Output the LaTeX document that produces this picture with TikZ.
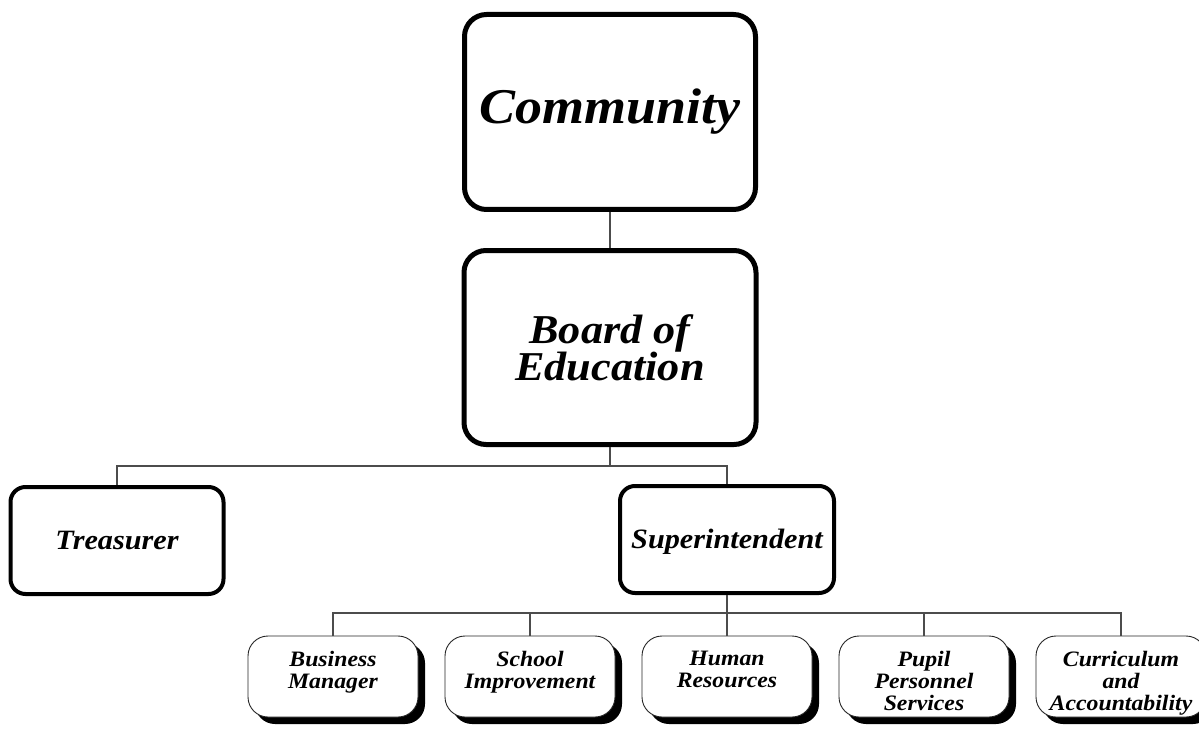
\documentclass[tikz,border=0pt]{standalone}
\usepackage{fontspec}
\usepackage{graphicx}
\setmainfont{Liberation Serif}
\usetikzlibrary{shadows}

% slightly widened bold-italic lettering
\newcommand{\orgtext}[1]{\scalebox{1.08}[1]{#1}}

\tikzset{
  bigbox/.style={draw=black, line width=5pt, rounded corners=22pt, fill=white,
    inner sep=0pt, font=\bfseries\itshape, align=center},
  midbox/.style={draw=black, line width=4pt, rounded corners=15pt, fill=white,
    inner sep=0pt, minimum width=214pt, minimum height=107pt,
    text height=20pt, text depth=3pt,
    font=\fontsize{28}{30}\selectfont\bfseries\itshape},
  deptbox/.style={draw=black!85, line width=0.9pt, rounded corners=20pt, fill=white,
    minimum width=170pt, minimum height=81pt, inner sep=0pt,
    drop shadow={shadow xshift=7pt, shadow yshift=-7pt, fill=black, opacity=1}},
  deptlabel/.style={anchor=north, yshift=-15pt, inner sep=0pt, align=center,
    font=\fontsize{22}{22}\selectfont\bfseries\itshape},
  link/.style={draw=black!70, line width=1.1pt}
}

\begin{document}
\begin{tikzpicture}[x=1pt, y=-1pt]
  \useasboundingbox (0,0) rectangle (1199,730);

  % upper chain
  \node[bigbox, minimum width=291pt, minimum height=195pt,
        font=\fontsize{50}{50}\selectfont\bfseries\itshape] (community) at (610,112) {\orgtext{Community}};
  \node[bigbox, minimum width=292pt, minimum height=194pt,
        font=\fontsize{41}{36}\selectfont\bfseries\itshape] (board) at (610,347.5)
        {\orgtext{Board of}\\[-1pt]\orgtext{Education}};

  % officers reporting to the board
  \node[midbox, minimum width=213pt] (treasurer) at (117,540.5) {\orgtext{Treasurer}};
  \node[midbox] (super) at (727,539.5) {\orgtext{Superintendent}};

  % departments under the superintendent
  \node[deptbox, label={[deptlabel]north:{\orgtext{Business}\\\orgtext{Manager}}}] (business) at (333,676.5) {};
  \node[deptbox, label={[deptlabel]north:{\orgtext{School}\\\orgtext{Improvement}}}] (school) at (530,676.5) {};
  \node[deptbox, label={[deptlabel]north:{\orgtext{Human}\\\orgtext{Resources}}}] (human) at (727,676.5) {};
  \node[deptbox, label={[deptlabel]north:{\orgtext{Pupil}\\\orgtext{Personnel}\\\orgtext{Services}}}] (pupil) at (924,676.5) {};
  \node[deptbox, label={[deptlabel]north:{\orgtext{Curriculum}\\\orgtext{and}\\\orgtext{Accountability}}}] (curric) at (1121,676.5) {};

  % junctions of the connector bars
  \coordinate (bar1) at (610,466);
  \coordinate (bar2) at (727,613);

  % connectors
  \path[link] (community.south) -- (board.north);
  \path[link] (board.south) -- (bar1);
  \path[link] (treasurer.north) |- (bar1) -| (super.north);
  \path[link] (super.south) -- (human.north);
  \path[link] (business.north) |- (bar2) -| (curric.north);
  \path[link] (school.north) |- (bar2);
  \path[link] (pupil.north) |- (bar2);
\end{tikzpicture}
\end{document}
